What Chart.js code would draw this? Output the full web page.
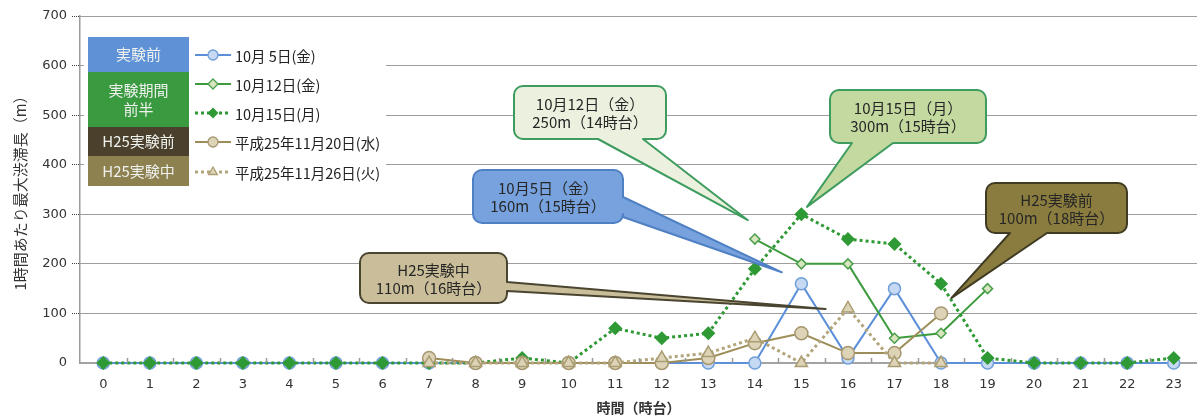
<!DOCTYPE html>
<html>
<head>
<meta charset="utf-8">
<script src="https://cdn.jsdelivr.net/npm/chart.js@4"></script>
<style>
  html, body { margin: 0; padding: 0; background: #ffffff; overflow: hidden; }
  #wrap { width: 1197px; height: 417px; position: relative; }
</style>
</head>
<body>
<div id="wrap"><canvas id="chart"></canvas></div>
<script>
// Hourly maximum queue length (m) per hour of day
const hours = ['0','1','2','3','4','5','6','7','8','9','10','11','12','13','14','15','16','17','18','19','20','21','22','23'];
const yTickValues = [0, 100, 200, 300, 400, 500, 600, 700];

const oct05 = [0,0,0,0,0,0,0,0,0,0,0,0,0,0,0,160,10,150,0,0,0,0,0,0];
const oct12 = [null,null,null,null,null,null,null,null,null,null,null,null,null,null,250,200,200,50,60,150,null,null,null,null];
const oct15 = [0,0,0,0,0,0,0,0,0,10,0,70,50,60,190,300,250,240,160,10,0,0,0,10];
const h25Nov20 = [null,null,null,null,null,null,null,10,0,0,0,0,0,10,40,60,20,20,100,null,null,null,null,null];
const h25Nov26 = [null,null,null,null,null,null,null,0,0,0,0,0,10,20,50,0,110,0,0,null,null,null,null,null];

const seriesLabels = ['10月 5日(金)', '10月12日(金)', '10月15日(月)', '平成25年11月20日(水)', '平成25年11月26日(火)'];
const groupLabels = [['実験前'], ['実験期間', '前半'], ['H25実験前'], ['H25実験中']];
const yAxisTitle = '1時間あたり最大渋滞長（m）';
const xAxisTitle = '時間（時台）';

const FONT_LAT = '"DejaVu Sans", "Noto Sans CJK JP", sans-serif';
const FONT_JP = '"Noto Sans CJK JP", "DejaVu Sans", sans-serif';

const styles = [
  { line: '#5b8fd9', width: 2, dash: [], point: 'circle', r: 6, fill: '#c6d9f2', stroke: '#6f9ed9' },
  { line: '#3d9b3d', width: 2, dash: [], point: 'rectRot', r: 5, fill: '#d7e6be', stroke: '#4c9f4c' },
  { line: '#2f9a35', width: 3, dash: [3, 3], point: 'rectRot', r: 6, fill: '#2f9a35', stroke: '#2f9a35' },
  { line: '#9d8d58', width: 2, dash: [], point: 'circle', r: 6.5, fill: '#ddd4b7', stroke: '#a69770' },
  { line: '#b3a57b', width: 3, dash: [3, 3], point: 'triangle', r: 7, fill: '#ddd4b7', stroke: '#ab9d72' }
];
const seriesData = [oct05, oct12, oct15, h25Nov20, h25Nov26];

const datasets = seriesData.map((d, i) => ({
  label: seriesLabels[i],
  data: d,
  borderColor: styles[i].line,
  borderWidth: styles[i].width,
  borderDash: styles[i].dash,
  pointStyle: styles[i].point,
  pointRadius: styles[i].r,
  pointBackgroundColor: styles[i].fill,
  pointBorderColor: styles[i].stroke,
  pointBorderWidth: 1.5,
  fill: false,
  tension: 0,
  spanGaps: false,
  clip: false,
  order: 5 - i
}));

// Legend markers
function marker(ctx, kind, x, y, r, fill, stroke) {
  ctx.save();
  ctx.setLineDash([]);
  ctx.beginPath();
  if (kind === 'circle') {
    ctx.arc(x, y, r, 0, Math.PI * 2);
  } else if (kind === 'rectRot') {
    ctx.moveTo(x, y - r); ctx.lineTo(x + r, y); ctx.lineTo(x, y + r); ctx.lineTo(x - r, y);
    ctx.closePath();
  } else if (kind === 'triangle') {
    ctx.moveTo(x, y - r); ctx.lineTo(x + r * 0.87, y + r * 0.5); ctx.lineTo(x - r * 0.87, y + r * 0.5);
    ctx.closePath();
  }
  ctx.fillStyle = fill; ctx.fill();
  ctx.strokeStyle = stroke; ctx.lineWidth = 1.3; ctx.stroke();
  ctx.restore();
}

// Speech-bubble outline: rounded box with a wedge on the bottom or right side
function bubblePath(ctx, x, y, w, h, r, side, a, b, tx, ty) {
  ctx.beginPath();
  ctx.moveTo(x + r, y);
  ctx.lineTo(x + w - r, y);
  ctx.arcTo(x + w, y, x + w, y + r, r);
  if (side === 'right') { ctx.lineTo(x + w, a); ctx.lineTo(tx, ty); ctx.lineTo(x + w, b); }
  ctx.lineTo(x + w, y + h - r);
  ctx.arcTo(x + w, y + h, x + w - r, y + h, r);
  if (side === 'bottom') { ctx.lineTo(b, y + h); ctx.lineTo(tx, ty); ctx.lineTo(a, y + h); }
  ctx.lineTo(x + r, y + h);
  ctx.arcTo(x, y + h, x, y + h - r, r);
  ctx.lineTo(x, y + r);
  ctx.arcTo(x, y, x + r, y, r);
  ctx.closePath();
}

const callouts = [
  { lines: ['10月12日（金）', oct12[14] + 'm（14時台）'], box: [514, 86, 152, 53], side: 'bottom', base: [598, 643], tip: [13.85, 288], fill: '#ebf1de', stroke: '#3e9c5f' },
  { lines: ['10月5日（金）', oct05[15] + 'm（15時台）'], box: [473, 170, 150, 53], side: 'right', base: [197, 217], tip: [14.58, 183], fill: '#77a2de', stroke: '#4f80c4' },
  { lines: ['10月15日（月）', oct15[15] + 'm（15時台）'], box: [830, 90, 156, 53], side: 'bottom', base: [852, 893], tip: [15.12, 315], fill: '#c4d9a0', stroke: '#3e9c5f' },
  { lines: ['H25実験前', h25Nov20[18] + 'm（18時台）'], box: [986, 183, 141, 50], side: 'bottom', base: [1010, 1047], tip: [18.22, 131], fill: '#8a7c3f', stroke: '#3f3a22' },
  { lines: ['H25実験中', h25Nov26[16] + 'm（16時台）'], box: [360, 253, 147, 50], side: 'right', base: [282, 291], tip: [15.52, 109], fill: '#c9be99', stroke: '#4a4530' }
];

const decor = {
  id: 'decor',
  afterDraw(chart) {
    const ctx = chart.ctx;
    const xs = chart.scales.x, ys = chart.scales.y;
    const area = chart.chartArea;

    // inward tick marks between hour categories
    ctx.save();
    ctx.strokeStyle = '#9a9a9a';
    ctx.lineWidth = 1.5;
    for (let i = 0; i < hours.length - 1; i++) {
      const x = Math.round((xs.getPixelForValue(i) + xs.getPixelForValue(i + 1)) / 2) + 0.5;
      ctx.beginPath();
      ctx.moveTo(x, area.bottom);
      ctx.lineTo(x, area.bottom - 5);
      ctx.stroke();
    }
    ctx.restore();

    // legend panel
    ctx.save();
    ctx.fillStyle = '#ffffff';
    ctx.fillRect(84, 28, 302, 162);
    const groupColors = ['#5e91d6', '#3a9a40', '#4b402b', '#8e8150'];
    const groupRows = [[37, 72], [72, 127], [127, 156], [156, 186]];
    ctx.textAlign = 'center';
    ctx.textBaseline = 'middle';
    ctx.font = '15px ' + FONT_JP;
    groupRows.forEach((g, i) => {
      ctx.fillStyle = groupColors[i];
      ctx.fillRect(88, g[0], 101, g[1] - g[0]);
      ctx.fillStyle = '#eef1ee';
      const lines = groupLabels[i];
      const cy = (g[0] + g[1]) / 2;
      lines.forEach((t, k) => {
        ctx.fillText(t, 138.5, cy + (k - (lines.length - 1) / 2) * 19);
      });
    });
    const rowY = [55, 84, 113, 142, 172];
    ctx.textAlign = 'left';
    ctx.font = '14.5px ' + FONT_JP;
    styles.forEach((s, i) => {
      const y = rowY[i];
      ctx.save();
      ctx.strokeStyle = s.line;
      ctx.lineWidth = s.width;
      ctx.setLineDash(s.dash);
      ctx.beginPath();
      ctx.moveTo(195, y);
      ctx.lineTo(231, y);
      ctx.stroke();
      ctx.restore();
      marker(ctx, s.point, 213, y, i === 2 ? 4.5 : 5, s.fill, s.stroke);
      ctx.fillStyle = '#222222';
      ctx.fillText(seriesLabels[i], 235, y + 1);
    });
    ctx.restore();

    // callouts
    callouts.forEach(c => {
      const [bx, by, bw, bh] = c.box;
      const tx = xs.getPixelForValue(c.tip[0]);
      const ty = ys.getPixelForValue(c.tip[1]);
      ctx.save();
      bubblePath(ctx, bx, by, bw, bh, 9, c.side, c.base[0], c.base[1], tx, ty);
      ctx.fillStyle = c.fill;
      ctx.fill();
      ctx.lineWidth = 2;
      ctx.lineJoin = 'round';
      ctx.strokeStyle = c.stroke;
      ctx.stroke();
      ctx.fillStyle = '#262626';
      ctx.font = '15px ' + FONT_JP;
      ctx.textAlign = 'center';
      ctx.textBaseline = 'middle';
      const cx = bx + bw / 2, cy = by + bh / 2 + 1;
      ctx.fillText(c.lines[0], cx, cy - 9);
      ctx.fillText(c.lines[1], cx, cy + 9);
      ctx.restore();
    });
  }
};

new Chart(document.getElementById('chart'), {
  type: 'line',
  data: { labels: hours, datasets },
  plugins: [decor],
  options: {
    responsive: true,
    maintainAspectRatio: false,
    devicePixelRatio: 1,
    animation: false,
    layout: { autoPadding: false, padding: { top: 16, right: 0, left: 0, bottom: 0 } },
    plugins: { legend: { display: false }, tooltip: { enabled: false } },
    scales: {
      x: {
        type: 'category',
        offset: true,
        grid: { display: false },
        border: { display: true, color: '#a3a3a3', width: 2 },
        ticks: { color: '#333333', font: { family: FONT_LAT, size: 13 }, padding: 6, maxRotation: 0, autoSkip: false },
        title: { display: true, text: xAxisTitle, color: '#333333', font: { family: FONT_JP, size: 14, weight: 'bold' }, padding: { top: 0, bottom: 1 } },
        afterFit: s => { s.height = 54; s.paddingLeft = 0; s.paddingRight = 0; }
      },
      y: {
        min: 0,
        max: 700,
        afterBuildTicks: s => { s.ticks = yTickValues.map(v => ({ value: v })); },
        grid: {
          color: c => (c.tick && c.tick.value === 0) ? 'rgba(0,0,0,0)' : '#3a3a3a',
          lineWidth: 1,
          tickLength: 8,
          tickBorderDash: [1, 1],
          tickColor: c => (c.tick && c.tick.value === 0) ? 'rgba(0,0,0,0)' : '#3a3a3a'
        },
        border: { display: true, color: '#9a9a9a', width: 1.5, dash: [1, 1] },
        ticks: { color: '#333333', font: { family: FONT_LAT, size: 13 }, padding: 5 },
        title: { display: true, text: yAxisTitle, color: '#333333', font: { family: FONT_JP, size: 15 }, padding: { top: 11, bottom: 0 } },
        afterFit: s => { s.width = 80; }
      }
    }
  }
});
</script>
</body>
</html>
